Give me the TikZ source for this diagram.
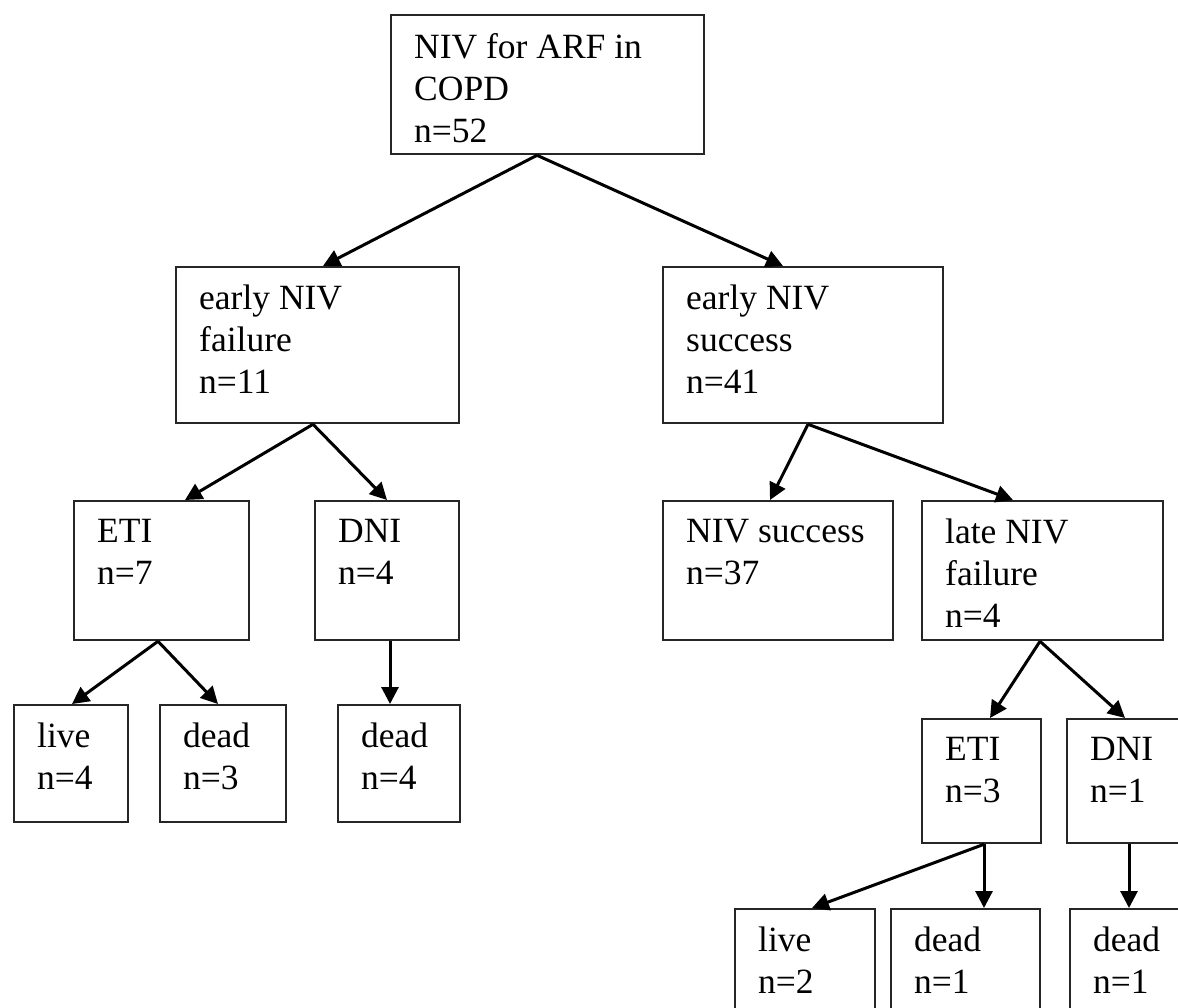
\documentclass[tikz,border=0pt]{standalone}
\usepackage{fontspec}
\setmainfont{Liberation Serif}
\usetikzlibrary{arrows.meta,calc}
\begin{document}
\begin{tikzpicture}[x=1pt,y=-1pt,
  bx/.style={draw=black!85, line width=2.3pt, rectangle, inner sep=0pt, anchor=north west},
  tx/.style={font=\fontsize{35.5}{42}\selectfont, align=left, inner sep=0pt, anchor=north west},
  arr/.style={draw=black, line width=3pt, -{Triangle[length=17pt,width=17pt]}}]
\useasboundingbox (0,0) rectangle (1178,1007);
\clip (0,0) rectangle (1178,1007);
\newcommand\mybox[6]{%
  \node[bx, minimum width=#4pt, minimum height=#5pt] (#1) at (#2,#3) {};
  \node[tx] (#1t) at (#2+24,#3+19) {#6};}
\mybox{root}{390}{14}{313}{139}{NIV for ARF in\\COPD\\n=52}
\mybox{efail}{175}{266}{283}{156}{early NIV\\failure\\n=11}
\mybox{esucc}{662}{266}{280}{156}{early NIV\\success\\n=41}
\mybox{etia}{73}{500}{175}{139}{ETI\\n=7}
\mybox{dnia}{314}{500}{144}{139}{DNI\\n=4}
\mybox{nsucc}{662}{500}{230}{139}{NIV success\\n=37}
\mybox{lfail}{921}{500}{241}{139}{late NIV\\failure\\n=4}
\mybox{livea}{13}{704}{114}{117}{live\\n=4}
\mybox{deada}{159}{704}{126}{117}{dead\\n=3}
\mybox{deadb}{337}{704}{122}{117}{dead\\n=4}
\mybox{etib}{921}{718}{119}{124}{ETI\\n=3}
\mybox{dnib}{1066}{718}{150}{124}{DNI\\n=1}
\mybox{liveb}{734}{908}{140}{120}{live\\n=2}
\mybox{deadc}{890}{908}{149}{120}{dead\\n=1}
\mybox{deadd}{1069}{908}{150}{120}{dead\\n=1}

\draw[arr] ($(root.south west)+(147,0)$) -- ($(efail.north west)+(148,0)$);
\draw[arr] ($(root.south west)+(147,0)$) -- ($(esucc.north west)+(121,0)$);
\draw[arr] ($(efail.south west)+(138,0)$) -- ($(etia.north west)+(112,0)$);
\draw[arr] ($(efail.south west)+(138,0)$) -- ($(dnia.north west)+(73,0)$);
\draw[arr] ($(esucc.south west)+(146,0)$) -- ($(nsucc.north west)+(108,0)$);
\draw[arr] ($(esucc.south west)+(146,0)$) -- ($(lfail.north west)+(92,0)$);
\draw[arr] ($(etia.south west)+(85,0)$) -- ($(livea.north west)+(59,0)$);
\draw[arr] ($(etia.south west)+(85,0)$) -- ($(deada.north west)+(59,0)$);
\draw[arr] ($(dnia.south west)+(76,0)$) -- ($(deadb.north west)+(53,0)$);
\draw[arr] ($(lfail.south west)+(119,0)$) -- ($(etib.north west)+(69,0)$);
\draw[arr] ($(lfail.south west)+(119,0)$) -- ($(dnib.north west)+(59,0)$);
\draw[arr] ($(etib.south west)+(63,0)$) -- ($(liveb.north west)+(78,0)$);
\draw[arr] ($(etib.south west)+(63,0)$) -- ($(deadc.north west)+(94,0)$);
\draw[arr] ($(dnib.south west)+(63,0)$) -- ($(deadd.north west)+(60,0)$);
\end{tikzpicture}
\end{document}
